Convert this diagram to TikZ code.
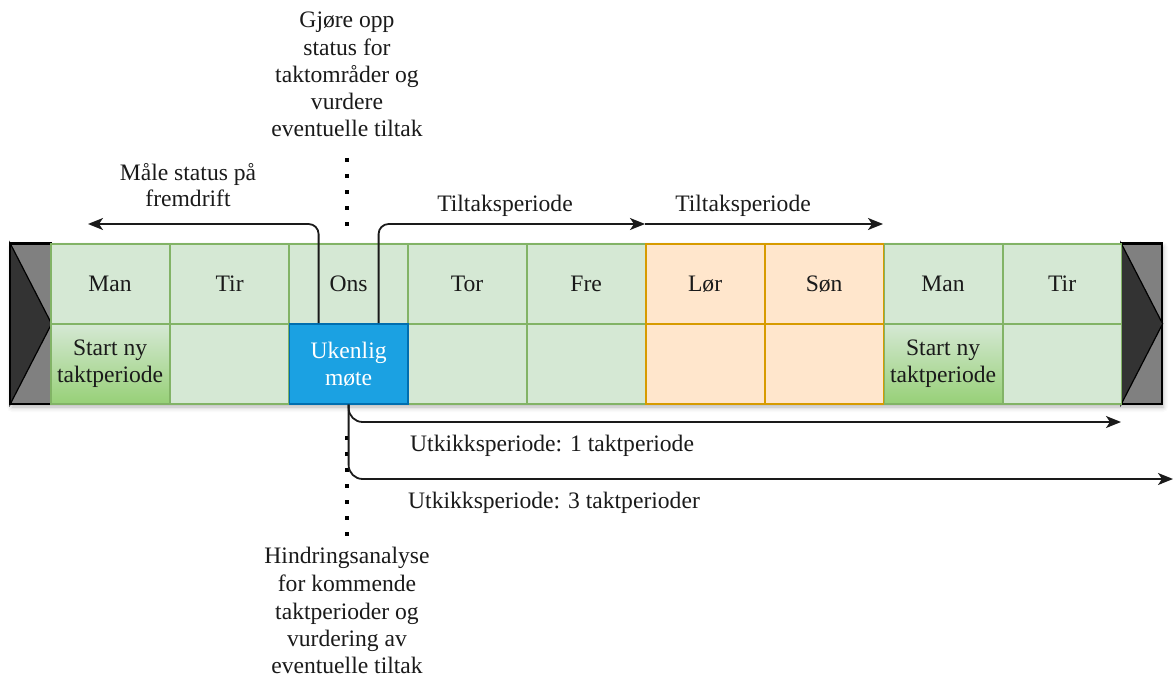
\documentclass[tikz,border=0pt]{standalone}
\usepackage{fontspec}
\setmainfont{Liberation Serif}
\usetikzlibrary{arrows.meta,shadows.blur}

\definecolor{cellfill}{HTML}{D5E8D4}
\definecolor{cellline}{HTML}{82B366}
\definecolor{startbot}{HTML}{97D077}
\definecolor{wkfill}{HTML}{FFE6CC}
\definecolor{wkline}{HTML}{D79B00}
\definecolor{meetfill}{HTML}{1BA1E2}
\definecolor{meetline}{HTML}{006EAF}
\definecolor{txt}{HTML}{1A1A1A}
\definecolor{capgray}{HTML}{808080}
\definecolor{capdark}{HTML}{333333}

\tikzset{
  cell/.style={draw=cellline, fill=cellfill, line width=1.6pt, anchor=north west,
    minimum width=118.6pt, minimum height=80pt, inner sep=0pt, align=center,
    text=txt, font=\fontsize{23.6}{27}\selectfont},
  weekend/.style={cell, draw=wkline, fill=wkfill},
  startcell/.style={cell, top color=cellfill, bottom color=startbot},
  meeting/.style={cell, draw=meetline, fill=meetfill, text=white},
  endcap/.style={draw=black, fill=capgray, line width=1.6pt},
  captri/.style={draw=black, fill=capdark, line width=1.2pt},
  arr/.style={draw=txt, line width=1.8pt,
    -{Stealth[length=15pt,width=12pt,inset=4pt]}},
  dotline/.style={draw=black, line width=3.6pt, dash pattern=on 3.6pt off 12.4pt},
  lbl/.style={text=txt, align=center, inner sep=0pt,
    font=\fontsize{23.6}{27.3}\selectfont},
}

\begin{document}
\begin{tikzpicture}[x=1pt, y=-1pt]
\useasboundingbox (0,0) rectangle (1174,679);

% soft shadow under the week strip
\fill[white, blur shadow={shadow xshift=2pt, shadow yshift=-4pt, shadow opacity=30, shadow blur radius=5pt}]
  (10,243) rectangle (1161,403);

% end caps
\node[endcap, minimum width=40pt, minimum height=160pt, anchor=north west, inner sep=0pt] (L) at (10,243) {};
\fill[captri] (L.north west) -- (L.east) -- (L.south west) -- cycle;
\node[endcap, minimum width=40pt, minimum height=160pt, anchor=north west, inner sep=0pt] (R) at (1121,243) {};
\fill[captri] (R.north west) -- (R.east) -- (R.south west) -- cycle;
\draw[draw=black, line width=1.6pt] (L.north west) rectangle (L.south east);
\draw[draw=black, line width=1.6pt] (R.north west) rectangle (R.south east);

% day row
\node[cell]    (t1) at (50,243)   {Man};
\node[cell]    (t2) at (169.5,243) {Tir};
\node[cell]    (t3) at (288.5,243) {Ons};
\node[cell]    (t4) at (407,243)  {Tor};
\node[cell]    (t5) at (526,243)  {Fre};
\node[cell]    (t8) at (883,243)  {Man};
\node[cell]    (t9) at (1002,243) {Tir};
\node[weekend] (t6) at (645,243)  {Lør};
\node[weekend] (t7) at (764,243)  {Søn};

% activity row
\node[startcell] (b1) at (50,323)   {Start ny\\taktperiode};
\node[cell]      (b2) at (169.5,323) {};
\node[cell]      (b4) at (407,323)  {};
\node[cell]      (b5) at (526,323)  {};
\node[startcell] (b8) at (883,323)  {Start ny\\taktperiode};
\node[cell]      (b9) at (1002,323) {};
\node[weekend]   (b6) at (645,323)  {};
\node[weekend]   (b7) at (764,323)  {};
\node[meeting]   (b3) at (288.5,323) {Ukenlig\\møte};

% dotted markers
\coordinate (dA) at (347,158);
\coordinate (dB) at (347,236);
\coordinate (dC) at (347,436);
\coordinate (dD) at (347,545);
\draw[dotline] (dA) -- (dB);
\draw[dotline] (dC) -- (dD);

% arrow end points
\coordinate (mL) at (88,224);
\coordinate (tA) at (645,224);
\coordinate (tB) at (883,224);
\coordinate (u1) at (1121,422);
\coordinate (u3) at (1173,479);

% arrows from the weekly meeting
\draw[arr, rounded corners=10pt] ([xshift=-30pt]b3.north) |- (mL);
\draw[arr, rounded corners=10pt] ([xshift=30pt]b3.north) |- (tA);
\draw[arr] (tA) -- (tB);
\draw[arr, rounded corners=14pt] (b3.south) |- (u1);
\draw[arr, rounded corners=14pt] (b3.south) |- (u3);

% labels
\node[lbl, anchor=base] (g1) at (347,28) {Gjøre opp};
\node[lbl, anchor=base] (g2) at (347,55.5) {status for};
\node[lbl, anchor=base] (g3) at (347,83) {taktområder og};
\node[lbl, anchor=base] (g4) at (347,110) {vurdere};
\node[lbl, anchor=base] (g5) at (347,137) {eventuelle tiltak};

\node[lbl, anchor=base] (m1) at (188,180) {Måle status på};
\node[lbl, anchor=base] (m2) at (188,206) {fremdrift};

\node[lbl, anchor=base] (p1) at (505,211) {Tiltaksperiode};
\node[lbl, anchor=base] (p2) at (743,211) {Tiltaksperiode};

\node[lbl, anchor=base west] (o1) at (410,451) {Utkikksperiode: 1 taktperiode};
\node[lbl, anchor=base west] (o3) at (408,508) {Utkikksperiode: 3 taktperioder};

\node[lbl, anchor=base] (h1) at (347,563) {Hindringsanalyse};
\node[lbl, anchor=base] (h2) at (347,591) {for kommende};
\node[lbl, anchor=base] (h3) at (347,619) {taktperioder og};
\node[lbl, anchor=base] (h4) at (347,646.5) {vurdering av};
\node[lbl, anchor=base] (h5) at (347,673) {eventuelle tiltak};
\end{tikzpicture}
\end{document}
